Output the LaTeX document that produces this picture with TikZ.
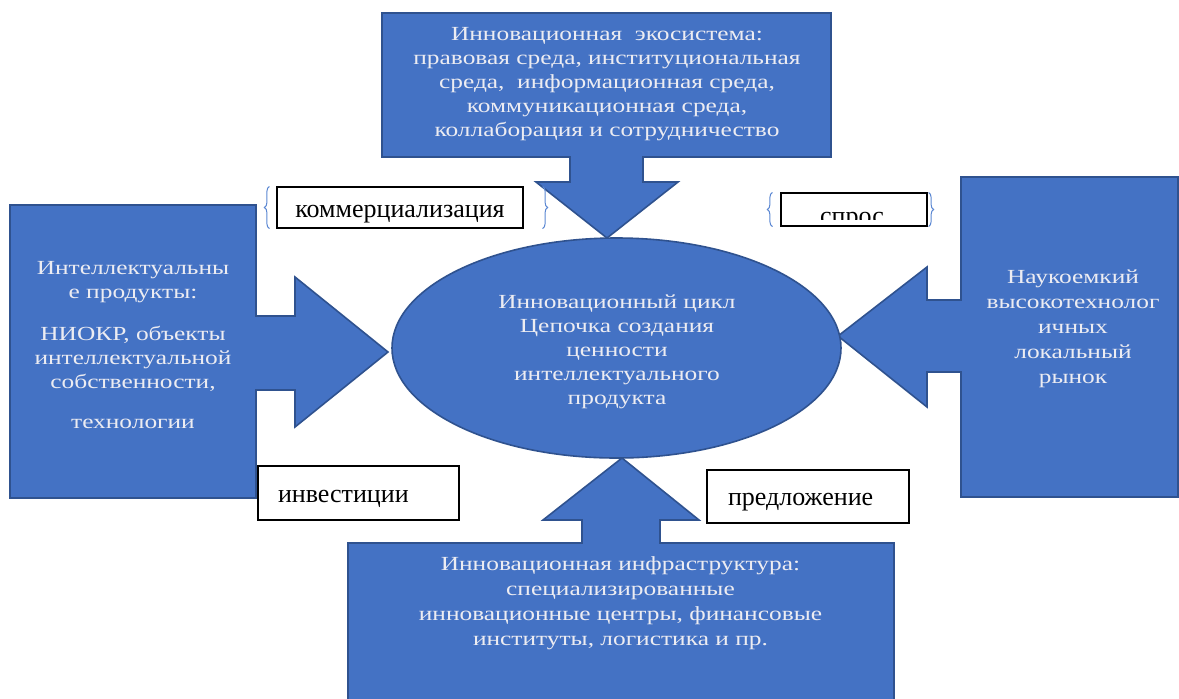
\documentclass[tikz,border=0pt]{standalone}
\usepackage{fontspec}
\setmainfont{Liberation Serif}
\newfontfamily\widefont{Liberation Serif}[FakeStretch=1.27]
\usetikzlibrary{shapes.geometric, decorations.pathreplacing}

\definecolor{cyclefill}{RGB}{68,114,196}
\definecolor{cycleline}{RGB}{47,82,143}
\definecolor{lighttext}{RGB}{236,236,242}
\definecolor{bracecol}{RGB}{91,135,210}

\begin{document}
\begin{tikzpicture}[
			x=0.5pt, y=-0.5pt,
			block/.style={fill=cyclefill, draw=cycleline, line width=0.8pt},
			intext/.style={text=lighttext, align=center, inner sep=0pt, font=\widefont\fontsize{10}{12}\selectfont},
			tag/.style={draw=black, line width=0.6pt, fill=white, inner sep=0pt, font=\fontsize{13}{15}\selectfont},
			curly/.style={draw=bracecol, line width=0.5pt, decorate, decoration={brace, amplitude=2.5pt}},
			]
			\useasboundingbox (0,0) rectangle (1179,698);
			
			% Blöcke mit Pfeilen
			\path[block] (382,13) -- (831,13) -- (831,157) -- (643,157) -- (643,182) -- (678,182) -- (607,238)
				-- (536,182) -- (570,182) -- (570,157) -- (382,157) -- cycle;
			\path[block] (10,205) -- (256,205) -- (256,316) -- (295,316) -- (295,277) -- (388,352)
				-- (295,427) -- (295,390) -- (256,390) -- (256,498) -- (10,498) -- cycle;
			\path[block] (961,177) -- (1178,177) -- (1178,497) -- (961,497) -- (961,372) -- (927,372)
				-- (927,407) -- (838,336) -- (927,267) -- (927,300) -- (961,300) -- cycle;
			\path[block] (348,700) -- (348,543) -- (582,543) -- (582,520) -- (543,520) -- (622,458)
				-- (699,520) -- (660,520) -- (660,543) -- (894,543) -- (894,700);
			
			% Zyklus
			\node[ellipse, block, minimum width=224.5pt, minimum height=110pt] (cycle) at (616.5,348) {};
			\node[intext] (cycletxt) at (617,352)
				{Инновационный цикл\\ Цепочка создания\\ ценности\\ интеллектуального\\ продукта};
			
			% Texte
			\node[intext] (eco) at (607,84) {Инновационная\ \ экосистема:\\ правовая среда, институциональная\\
				среда,\ \ информационная среда,\\ коммуникационная среда,\\ коллаборация и сотрудничество};
			\node[intext] (prod) at (133,345) {Интеллектуальны\\ е продукты:\\[9pt] НИОКР, объекты\\
				интеллектуальной\\ собственности,\\[8pt] технологии};
			\node[intext, font=\widefont\fontsize{10}{12.5}\selectfont] (market) at (1073,329)
				{Наукоемкий\\ высокотехнолог\\ ичных\\ локальный\\ рынок};
			\node[intext, font=\widefont\fontsize{10}{12.5}\selectfont] (infra) at (620.5,603)
				{Инновационная инфраструктура:\\ специализированные\\
				инновационные центры, финансовые\\ институты, логистика и пр.};
			
			% Beschriftungen
			\node[tag, minimum width=123pt, text height=15pt, text depth=5.5pt] (comm) at (400,207.5) {коммерциализация};
			\node[tag, minimum width=73pt, minimum height=16.5pt] (demand) at (854,209.5) {};
			\begin{scope}
				\clip (demand.north west) rectangle (927,219.5);
				\node[font=\fontsize{13}{15}\selectfont, anchor=base, inner sep=0pt] (demandtxt) at (852,224) {спрос};
			\end{scope}
			\node[tag, text width=80.5pt, inner xsep=10pt, text height=18pt, text depth=9pt, align=left] (invest) at (358.5,493) {инвестиции};
			\node[tag, text width=80pt, inner xsep=10.5pt, text height=17.5pt, text depth=9pt, align=left] (supply) at (808,496.5) {предложение};
			
			% Klammern
			\draw[curly] ([xshift=-3.5pt]comm.south west) -- ([xshift=-3.5pt]comm.north west);
			\draw[curly] ([xshift=9.5pt]comm.north east) -- ([xshift=9.5pt]comm.south east);
			\draw[curly] ([xshift=-4pt]demand.south west) -- ([xshift=-4pt]demand.north west);
			\draw[curly] ([xshift=0.5pt]demand.north east) -- ([xshift=0.5pt]demand.south east);
			
		\end{tikzpicture}
\end{document}
